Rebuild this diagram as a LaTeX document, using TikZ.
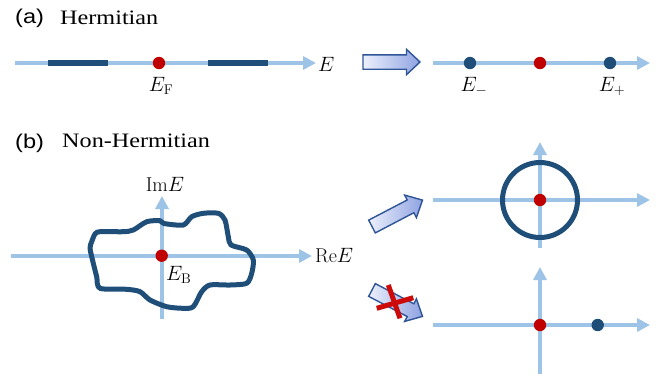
\documentclass[tikz,border=0pt]{standalone}
\usepackage{fontspec}
\usetikzlibrary{arrows.meta}
\newfontfamily\panelfont{Liberation Sans}
\newfontfamily\titlefont{Liberation Serif}

\definecolor{axisblue}{RGB}{157,195,230}
\definecolor{darkblue}{RGB}{31,78,121}
\definecolor{dotred}{RGB}{192,0,0}
\definecolor{crossred}{RGB}{205,10,10}
\definecolor{arrowedge}{RGB}{47,85,151}
\definecolor{arrowlight}{RGB}{236,240,252}
\definecolor{arrowdark}{RGB}{143,163,226}

\tikzset{
  axisline/.style={draw=axisblue, line width=4.6pt,
    -{Triangle[length=13pt,width=13pt]}},
  bandbar/.style={draw=darkblue, line width=6.3pt},
  reddot/.style={circle, fill=dotred, inner sep=0pt, minimum size=12.4pt},
  bluedot/.style={circle, fill=darkblue, inner sep=0pt, minimum size=12.4pt},
  mathlabel/.style={inner sep=0pt, font=\fontsize{20}{24}\selectfont},
  paneltag/.style={inner sep=0pt, anchor=base west},
  fatarrow/.style={draw=arrowedge, line width=1.4pt, line join=miter,
    left color=arrowlight, right color=arrowdark},
  spectrum/.style={draw=darkblue, line width=5pt, line join=round},
  crossbar/.style={draw=crossred, line width=5pt}
}

% text set at a given size and widened horizontally
\newcommand{\widetext}[2]{\scalebox{1.18}[1]{\fontsize{#1}{#1}\selectfont #2}}

% outline of a thick block arrow, tail at the origin, pointing along +x
\newcommand{\blockarrow}{(0,-7.2) -- (43.5,-7.2) -- (43.5,-12.7) -- (57,0) -- (43.5,12.7) -- (43.5,7.2) -- (0,7.2) -- cycle}

\begin{document}
\begin{tikzpicture}[x=1pt, y=-1pt]
  \useasboundingbox (0,0) rectangle (670,376);

  % ---------------- (a) Hermitian ----------------
  \node[paneltag] (taga) at (15,23) {\widetext{20}{\panelfont (a)}};
  \node[paneltag] (titlea) at (60,24) {\widetext{20.5}{\titlefont Hermitian}};

  \coordinate (ha0) at (15,63);
  \coordinate (ha1) at (316,63);
  \draw[axisline] (ha0) -- (ha1);
  \coordinate (bandL0) at (48,63);  \coordinate (bandL1) at (108,63);
  \coordinate (bandR0) at (208,63); \coordinate (bandR1) at (268,63);
  \draw[bandbar] (bandL0) -- (bandL1);
  \draw[bandbar] (bandR0) -- (bandR1);
  \node[reddot] (ef) at (159,63) {};
  \node[mathlabel, anchor=west] (elab) at (318,64.5) {$E$};
  \node[mathlabel, anchor=north] (eflab) at (161,77) {$E_{\mathrm{F}}$};

  % transition arrow
  \begin{scope}[shift={(363,62)}]
    \path[fatarrow] \blockarrow;
  \end{scope}

  \coordinate (hb0) at (433,63);
  \coordinate (hb1) at (650,63);
  \draw[axisline] (hb0) -- (hb1);
  \node[bluedot] (em) at (470,63) {};
  \node[reddot] (ec) at (540,63) {};
  \node[bluedot] (ep) at (610,63) {};
  \node[mathlabel, anchor=north] (emlab) at (474,77) {$E_-$};
  \node[mathlabel, anchor=north] (eplab) at (612,77) {$E_+$};

  % ---------------- (b) Non-Hermitian ----------------
  \node[paneltag] (tagb) at (15,148.5) {\widetext{20}{\panelfont (b)}};
  \node[paneltag] (titleb) at (62,147.5) {\widetext{20.5}{\titlefont Non-Hermitian}};

  % complex energy plane
  \coordinate (re0) at (11,256);
  \coordinate (re1) at (312,256);
  \coordinate (im0) at (162,319);
  \coordinate (im1) at (162,196);
  \draw[axisline] (re0) -- (re1);
  \draw[axisline] (im0) -- (im1);

  % spectral loop
  \draw[spectrum] plot[smooth cycle, tension=0.45] coordinates {
    (91.7,241.7) (95,234) (100,231.7) (123.3,231.7) (133.3,230)
    (146.7,221.7) (160,220.7) (164,223.5) (183.3,225) (191.7,216.7)
    (203.3,213.3) (218.3,213.3) (225,220) (228.3,236.7) (231,245)
    (246.7,250) (253.3,260) (251.7,273.3) (246.7,283.3) (230,285)
    (210,285) (201.7,291.7) (193.3,306.7) (183.3,308.3) (166.7,306.7)
    (150,300) (140,291.7) (126.7,289.3) (100,288.3) (96.7,276.7)
    (93.3,263.3) (90,248.3)};

  \node[reddot] (eb) at (161.7,255.7) {};
  \node[mathlabel, anchor=north west] (eblab) at (166,266) {$E_{\mathrm{B}}$};
  \node[mathlabel, anchor=south] (imlab) at (165,192) {$\mathrm{Im}E$};
  \node[mathlabel, anchor=west] (relab) at (315,256) {$\mathrm{Re}E$};

  % allowed transition
  \begin{scope}[shift={(372,226.5)}, rotate=27.6]
    \path[fatarrow] \blockarrow;
  \end{scope}

  % upper target: loop around the base energy
  \coordinate (ua0) at (433,200);
  \coordinate (ua1) at (650,200);
  \coordinate (ub0) at (540,248);
  \coordinate (ub1) at (540,142);
  \draw[axisline] (ua0) -- (ua1);
  \draw[axisline] (ub0) -- (ub1);
  \node[circle, draw=darkblue, line width=5pt, minimum size=75pt, inner sep=0pt] (loop) at (540,200) {};
  \node[reddot] (ucent) at (540,200) {};

  % forbidden transition
  \begin{scope}[shift={(372,290)}, rotate=-27.6]
    \path[fatarrow] \blockarrow;
  \end{scope}
  \coordinate (x1a) at (376.7,308.3); \coordinate (x1b) at (413.3,297.7);
  \coordinate (x2a) at (388.3,285);   \coordinate (x2b) at (400,318.3);
  \draw[crossbar] (x1a) -- (x1b);
  \draw[crossbar] (x2a) -- (x2b);

  % lower target: point spectrum away from the base energy
  \coordinate (la0) at (433,325);
  \coordinate (la1) at (650,325);
  \coordinate (lb0) at (540,374);
  \coordinate (lb1) at (540,267);
  \draw[axisline] (la0) -- (la1);
  \draw[axisline] (lb0) -- (lb1);
  \node[reddot] (lcent) at (540,325) {};
  \node[bluedot] (lpt) at (597.7,325) {};
\end{tikzpicture}
\end{document}
